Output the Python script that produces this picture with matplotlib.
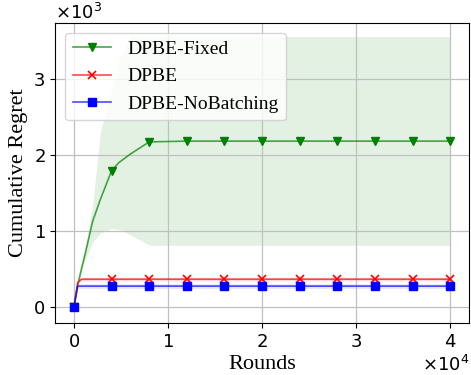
import matplotlib
matplotlib.use("Agg")
import matplotlib.pyplot as plt
import numpy as np

rounds = [0, 400, 800, 1200, 2000, 2800, 4000, 4800, 6000, 8000,
          12000, 16000, 20000, 24000, 28000, 32000, 36000, 40000]

# DPBE-Fixed: mean with lower / upper band
fixed_mean = [0, 290, 500, 700, 1130, 1410, 1790, 1900, 2010, 2170,
              2180, 2180, 2180, 2180, 2180, 2180, 2180, 2180]
fixed_low = [0, 270, 460, 620, 850, 970, 1030, 1020, 950, 810,
             810, 810, 810, 810, 810, 810, 810, 810]
fixed_high = [0, 310, 560, 780, 1350, 2300, 2850, 3250, 3555, 3555,
              3555, 3555, 3555, 3555, 3555, 3555, 3555, 3555]

# DPBE
dpbe_mean = [0, 320, 365, 365, 365, 365, 365, 365, 365, 365,
             365, 365, 365, 365, 365, 365, 365, 365]
dpbe_err = 25

# DPBE-NoBatching
nob_mean = [0, 274, 274, 274, 274, 274, 274, 274, 274, 274,
            274, 274, 274, 274, 274, 274, 274, 274]
nob_err = 30

marks = [i for i, r in enumerate(rounds) if r % 4000 == 0]

fig, ax = plt.subplots(figsize=(4.71, 3.75), dpi=100)
fig.subplots_adjust(left=0.117, right=0.996, top=0.939, bottom=0.139)

x = np.array(rounds)
ax.plot(x, fixed_mean, color=(0, 0.5, 0, 0.7), lw=1.2, marker="v", ms=6,
        mfc="green", mec="green", markevery=marks, label="DPBE-Fixed")
ax.fill_between(x, fixed_low, fixed_high, color="green", alpha=0.11, lw=0)

dm = np.array(dpbe_mean)
ax.plot(x, dm, color=(1, 0, 0, 0.7), lw=1.2, marker="x", ms=6, mew=1.2,
        mfc="red", mec="red", markevery=marks, label="DPBE")
ax.fill_between(x, dm - dpbe_err, dm + dpbe_err, color="red", alpha=0.12, lw=0)

nm = np.array(nob_mean)
ax.plot(x, nm, color=(0, 0, 1, 0.7), lw=1.2, marker="s", ms=6,
        mfc="blue", mec="blue", markevery=marks, label="DPBE-NoBatching")
ax.fill_between(x, nm - nob_err, nm + nob_err, color="blue", alpha=0.1, lw=0)

ax.grid(True, color="#c0c0c0", lw=0.9)
ax.set_xticks([0, 10000, 20000, 30000, 40000])
ax.set_yticks([0, 1000, 2000, 3000])
ax.ticklabel_format(style="sci", scilimits=(0, 0), useMathText=True)
ax.tick_params(labelsize=13)
ax.xaxis.get_offset_text().set_fontsize(13)
ax.yaxis.get_offset_text().set_fontsize(13)

ax.set_xlabel("Rounds", family="Liberation Serif", fontsize=16, labelpad=3)
ax.set_ylabel("Cumulative Regret", family="Liberation Serif", fontsize=16,
              labelpad=4)
ax.legend(loc="upper left", prop={"family": "Liberation Serif", "size": 14},
          handlelength=2.0, borderaxespad=0.5)

fig.savefig("out.png", dpi=100)
